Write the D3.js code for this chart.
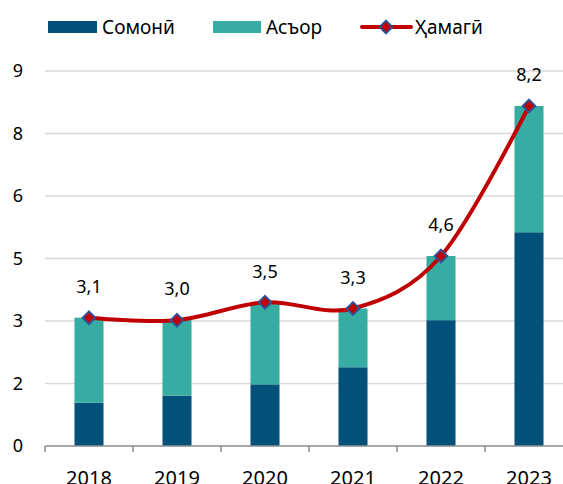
<!DOCTYPE html>
<html>
<head>
<meta charset="utf-8">
<script src="https://cdn.jsdelivr.net/npm/d3@7"></script>
<style>
  body { margin: 0; background: #fff; }
  text { font-family: "Noto Sans", "Open Sans", sans-serif; fill: #000; }
</style>
</head>
<body>
<div id="chart"></div>
<script>
let width = 563, height = 484;

let years = ["2018", "2019", "2020", "2021", "2022", "2023"];
let somoni = [1.04, 1.21, 1.48, 1.89, 3.02, 5.13];
let asor = [2.04, 1.81, 1.97, 1.41, 1.54, 3.03];
let total = [3.08, 3.02, 3.45, 3.30, 4.56, 8.16];
let yTicks = [0, 1.5, 3, 4.5, 6, 7.5, 9];

let colSomoni = "#03507a", colAsor = "#36aca3", colLine = "#c00000", colEdge = "#2f5496";

let svg = d3.select("#chart")
.append("svg")
.attr("width", width)
.attr("height", height);

let x = d3.scaleBand()
.domain(years)
.range([45, 573])
.paddingInner(0.67)
.paddingOuter(0.335);

let y = d3.scaleLinear()
.domain([0, 9])
.range([446, 71]);

// grid
svg.append("g")
.selectAll("line")
.data(yTicks.slice(1))
.enter().append("line")
.attr("x1", 45).attr("x2", width)
.attr("y1", d => y(d)).attr("y2", d => y(d))
.attr("stroke", "#d9d9d9")
.attr("stroke-width", 1.3);

// y labels
svg.append("g")
.selectAll("text")
.data(yTicks)
.enter().append("text")
.attr("x", 18)
.attr("y", d => y(d))
.attr("dy", "0.35em")
.attr("text-anchor", "middle")
.style("font-size", "18px")
.text(d => d3.format(".0f")(d));

// stacked bars
let stackData = years.map((yr, i) => ({ year: yr, somoni: somoni[i], asor: asor[i] }));
let series = d3.stack().keys(["somoni", "asor"])(stackData);
let colors = { somoni: colSomoni, asor: colAsor };

svg.append("g")
.selectAll("g")
.data(series)
.enter().append("g")
.attr("fill", d => colors[d.key])
.selectAll("rect")
.data(d => d)
.enter().append("rect")
.attr("x", d => x(d.data.year))
.attr("width", x.bandwidth())
.attr("y", d => y(d[1]))
.attr("height", d => y(d[0]) - y(d[1]));

// x axis
let xAxis = svg.append("g")
.attr("transform", "translate(0,446)");
xAxis.append("line")
.attr("x1", 45).attr("x2", width)
.attr("stroke", "#8c8c8c").attr("stroke-width", 1.5);
xAxis.selectAll(".tk")
.data(years)
.enter().append("line")
.attr("class", "tk")
.attr("x1", d => x(d) - x.step() * x.paddingInner() / 2)
.attr("x2", d => x(d) - x.step() * x.paddingInner() / 2)
.attr("y1", 0).attr("y2", 6)
.attr("stroke", "#8c8c8c").attr("stroke-width", 1.5);
xAxis.selectAll(".lbl")
.data(years)
.enter().append("text")
.attr("class", "lbl")
.attr("x", d => x(d) + x.bandwidth() / 2)
.attr("y", 39)
.attr("text-anchor", "middle")
.style("font-size", "20px")
.text(d => d);

// total line
let pts = years.map((yr, i) => [x(yr) + x.bandwidth() / 2, y(total[i])]);

svg.append("path")
.datum(pts)
.attr("d", d3.line().curve(d3.curveCatmullRom.alpha(0)))
.attr("fill", "none")
.attr("stroke", colLine)
.attr("stroke-width", 4);

let diamond = d3.symbol().type(d3.symbolSquare).size(80);

svg.append("g")
.selectAll("path")
.data(pts)
.enter().append("path")
.attr("d", diamond)
.attr("transform", d => "translate(" + d[0] + "," + d[1] + ") rotate(45)")
.attr("fill", colLine)
.attr("stroke", colEdge)
.attr("stroke-width", 2);

svg.append("g")
.selectAll("text")
.data(pts)
.enter().append("text")
.attr("x", d => d[0])
.attr("y", d => d[1] - 31)
.attr("dy", "0.35em")
.attr("text-anchor", "middle")
.style("font-size", "18px")
.text((d, i) => d3.format(".1f")(total[i]).replace(".", ","));

// legend
let legend = svg.append("g");
legend.append("rect").attr("x", 48).attr("y", 21).attr("width", 49).attr("height", 12).attr("fill", colSomoni);
legend.append("text").attr("x", 102).attr("y", 27).attr("dy", "0.35em").style("font-size", "19px").text("Сомонӣ");
legend.append("rect").attr("x", 213).attr("y", 21).attr("width", 48).attr("height", 12).attr("fill", colAsor);
legend.append("text").attr("x", 266).attr("y", 27).attr("dy", "0.35em").style("font-size", "19px").text("Асъор");
legend.append("line").attr("x1", 362).attr("x2", 411).attr("y1", 27).attr("y2", 27)
.attr("stroke", colLine).attr("stroke-width", 4).attr("stroke-linecap", "round");
legend.append("path").attr("d", diamond)
.attr("transform", "translate(386,27) rotate(45)")
.attr("fill", colLine).attr("stroke", colEdge).attr("stroke-width", 2);
legend.append("text").attr("x", 415).attr("y", 27).attr("dy", "0.35em").style("font-size", "19px").text("Ҳамагӣ");
</script>
</body>
</html>
